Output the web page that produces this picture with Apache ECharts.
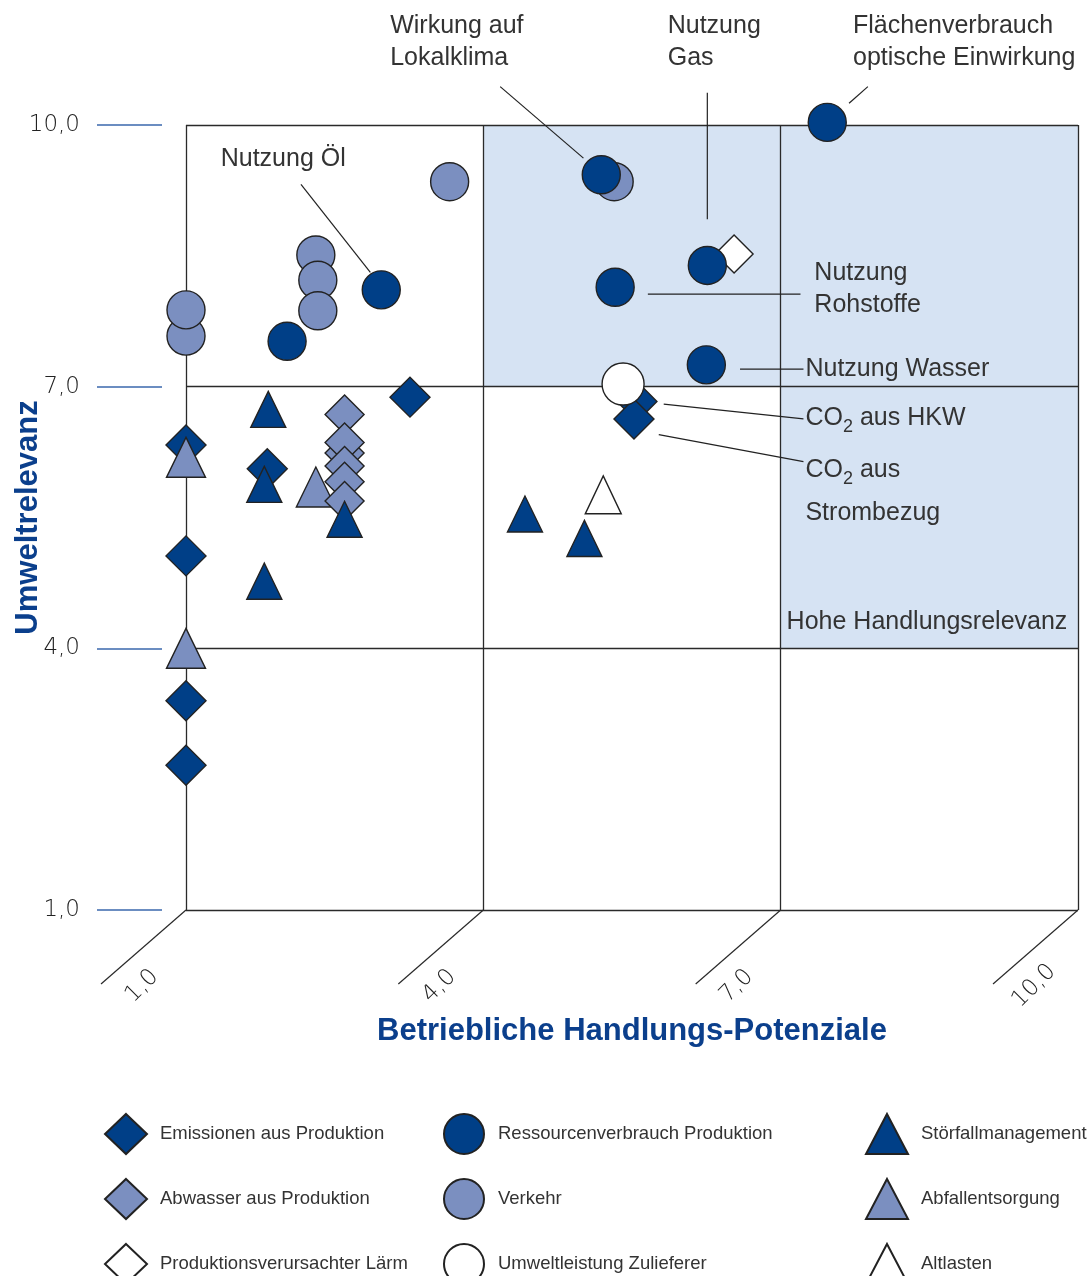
<!DOCTYPE html>
<html>
<head>
<meta charset="utf-8">
<script src="https://cdn.jsdelivr.net/npm/echarts@6/dist/echarts.min.js"></script>
<style>
  html, body { margin: 0; padding: 0; background: #ffffff; }
  #chart { width: 1087px; height: 1276px; }
</style>
</head>
<body>
<div id="chart"></div>
<script>
// Axis scale: both axes run 1..10 with grid lines every 3 units
const axisTicks = [1, 4, 7, 10];
const tickLabel = v => v.toFixed(1).replace('.', ',');

// [Betriebliche Handlungs-Potenziale, Umweltrelevanz]
const emissionen = [[3.26, 6.88], [1.0, 6.33], [1.82, 6.06], [1.0, 5.06], [1.0, 3.40], [1.0, 2.66], [5.55, 6.83], [5.52, 6.63]];
const abwasser = [[2.60, 6.68], [2.60, 6.24], [2.60, 6.36], [2.60, 6.09], [2.60, 5.91], [2.60, 5.69]];
const laerm = [[6.53, 8.52]];
const ressourcen = [[2.02, 7.52], [2.97, 8.11], [5.19, 9.43], [5.33, 8.14], [6.26, 8.39], [6.25, 7.25], [7.47, 10.03]];
const verkehr = [[3.66, 9.35], [2.31, 8.51], [2.33, 8.22], [2.33, 7.87], [1.0, 7.58], [1.0, 7.88], [5.32, 9.35]];
const zulieferer = [[5.41, 7.03]];
const stoerfall = [[1.83, 6.74], [1.79, 5.88], [2.60, 5.48], [1.79, 4.77], [4.42, 5.54], [5.02, 5.26]];
const abfall = [[1.0, 6.19], [2.31, 5.85], [1.0, 4.0]];
const altlasten = [[5.21, 5.76]];

// Zone of high relevance for action: [xFrom, yFrom, xTo, yTo]
const highRelevanceZones = [[4, 7, 10, 10], [7, 4, 10, 7]];

// Callouts, placed in axis units
const annotations = [
  { text: 'Wirkung auf\nLokalklima', at: [3.06, 11.32], leader: [[4.17, 10.44], [5.01, 9.62]] },
  { text: 'Nutzung\nGas', at: [5.86, 11.32], leader: [[6.26, 10.37], [6.26, 8.92]] },
  { text: 'Flächenverbrauch\noptische Einwirkung', at: [7.73, 11.32], leader: [[7.88, 10.44], [7.69, 10.25]] },
  { text: 'Nutzung Öl', at: [1.35, 9.79], leader: [[2.16, 9.32], [2.86, 8.31]] },
  { text: 'Nutzung\nRohstoffe', at: [7.34, 8.48], leader: [[5.66, 8.06], [7.20, 8.06]] },
  { text: 'Nutzung Wasser', at: [7.25, 7.39], leader: [[6.59, 7.20], [7.23, 7.20]] },
  { text: 'CO{s|2} aus HKW', at: [7.25, 6.82], leader: [[5.82, 6.80], [7.23, 6.63]] },
  { text: 'CO{s|2} aus\nStrombezug', at: [7.25, 6.29], leader: [[5.77, 6.45], [7.23, 6.14]], lineHeight: 43 },
  { text: 'Hohe Handlungsrelevanz', at: [7.06, 4.48] }
];

const DARK = '#003f87';
const LIGHT = '#7b8fc0';
const WHITE = '#ffffff';
const EDGE = '#222222';
const GRID = '#2a2a2a';
const TEXT = '#333333';
const TITLE = '#0b3f8c';

function scatter(name, data, symbol, size, color, z) {
  return {
    type: 'scatter', name, data, symbol, symbolSize: size, z, clip: false,
    itemStyle: { color, borderColor: EDGE, borderWidth: 1.4, opacity: 1 },
    emphasis: { disabled: true }, silent: true
  };
}

const legendBase = {
  orient: 'vertical', itemWidth: 42, itemHeight: 40, itemGap: 23,
  top: 1113, height: 200, padding: 0,
  selectedMode: false,
  textStyle: { fontFamily: 'Liberation Sans', fontSize: 18.5, color: TEXT, padding: [0, 0, 0, 8] }
};

const chart = echarts.init(document.getElementById('chart'), null, { renderer: 'canvas' });

chart.setOption({
  animation: false,
  backgroundColor: '#ffffff',
  grid: { left: 186, right: 9, top: 125, bottom: 366, containLabel: false, outerBoundsMode: 'none' },
  xAxis: {
    type: 'value', min: 1, max: 10, z: 1,
    axisLine: { show: false },
    axisTick: { show: false, customValues: axisTicks },
    axisLabel: { show: false, customValues: axisTicks },
    splitLine: { show: true, lineStyle: { color: GRID, width: 1.3 } },
    name: 'Betriebliche Handlungs-Potenziale',
    nameLocation: 'middle', nameGap: 106, nameMoveOverlap: false,
    nameTextStyle: { fontFamily: 'Liberation Sans', fontWeight: 'bold', fontSize: 31, color: TITLE }
  },
  yAxis: {
    type: 'value', min: 1, max: 10, z: 1, offset: 24,
    axisLine: { show: false },
    axisTick: { show: true, length: 65, customValues: axisTicks, lineStyle: { color: '#3a67ad', width: 1.6 } },
    axisLabel: {
      customValues: axisTicks, formatter: tickLabel, margin: 82,
      fontFamily: 'DejaVu Sans', fontWeight: 300, fontSize: 23, color: '#222222'
    },
    splitLine: { show: true, lineStyle: { color: GRID, width: 1.3 } },
    name: 'Umweltrelevanz',
    nameLocation: 'middle', nameRotate: 90, nameGap: 118, nameMoveOverlap: false,
    nameTextStyle: { fontFamily: 'Liberation Sans', fontWeight: 'bold', fontSize: 31, color: TITLE }
  },
  legend: [
    Object.assign({}, legendBase, { left: 104, data: ['Emissionen aus Produktion', 'Abwasser aus Produktion', 'Produktionsverursachter Lärm'] }),
    Object.assign({}, legendBase, { left: 443, data: ['Ressourcenverbrauch Produktion', 'Verkehr', 'Umweltleistung Zulieferer'] }),
    Object.assign({}, legendBase, { left: 865, data: ['Störfallmanagement', 'Abfallentsorgung', 'Altlasten'] })
  ],
  series: [
    {
      // shaded zone of high relevance for action
      type: 'custom', name: 'zone', z: 0, silent: true,
      data: highRelevanceZones,
      renderItem(params, api) {
        const p1 = api.coord([api.value(0), api.value(1)]);
        const p2 = api.coord([api.value(2), api.value(3)]);
        return {
          type: 'rect',
          shape: { x: p1[0], y: p2[1], width: p2[0] - p1[0], height: p1[1] - p2[1] },
          style: { fill: '#d6e3f3' }
        };
      }
    },
    {
      // slanted guides and tick labels below the x axis
      type: 'custom', name: 'xguides', z: 1, silent: true,
      data: axisTicks.map(v => [v, 1]),
      renderItem(params, api) {
        const p = api.coord([api.value(0), api.value(1)]);
        return {
          type: 'group',
          children: [
            { type: 'line', shape: { x1: p[0], y1: p[1], x2: p[0] - 85, y2: p[1] + 74 }, style: { stroke: GRID, lineWidth: 1.2 } },
            {
              type: 'text', x: p[0] - 44, y: p[1] + 76, rotation: Math.PI / 4,
              style: {
                text: tickLabel(api.value(0)), align: 'center', verticalAlign: 'middle',
                fontFamily: 'DejaVu Sans', fontWeight: 300, fontSize: 23, fill: '#222222'
              }
            }
          ]
        };
      }
    },
    scatter('Emissionen aus Produktion', emissionen, 'diamond', [40, 40], DARK, 2),
    scatter('Abfallentsorgung', abfall, 'triangle', [39, 40], LIGHT, 3),
    scatter('Abwasser aus Produktion', abwasser, 'diamond', [39, 39], LIGHT, 4),
    scatter('Störfallmanagement', stoerfall, 'triangle', [35, 36], DARK, 5),
    scatter('Produktionsverursachter Lärm', laerm, 'diamond', [38, 38], WHITE, 6),
    scatter('Verkehr', verkehr, 'circle', 38, LIGHT, 7),
    scatter('Ressourcenverbrauch Produktion', ressourcen, 'circle', 38, DARK, 8),
    scatter('Umweltleistung Zulieferer', zulieferer, 'circle', 42, WHITE, 9),
    scatter('Altlasten', altlasten, 'triangle', [36, 38], WHITE, 10),
    {
      // callout texts with leader lines
      type: 'custom', name: 'callouts', z: 20, silent: true,
      data: annotations.map(a => a.at),
      renderItem(params, api) {
        const a = annotations[params.dataIndex];
        const t = api.coord(a.at);
        const children = [];
        if (a.leader) {
          children.push({
            type: 'polyline',
            shape: { points: a.leader.map(c => api.coord(c)) },
            style: { stroke: EDGE, lineWidth: 1.2, fill: null }
          });
        }
        children.push({
          type: 'text', x: t[0], y: t[1],
          style: {
            text: a.text, fill: TEXT, fontFamily: 'Liberation Sans', fontSize: 25,
            lineHeight: a.lineHeight || 32, align: 'left', verticalAlign: 'top',
            rich: {
              s: { fontFamily: 'Liberation Sans', fontSize: 18, fill: TEXT, verticalAlign: 'middle', padding: [17, 0, 0, 0] }
            }
          }
        });
        return { type: 'group', children };
      }
    }
  ]
});
</script>
</body>
</html>
